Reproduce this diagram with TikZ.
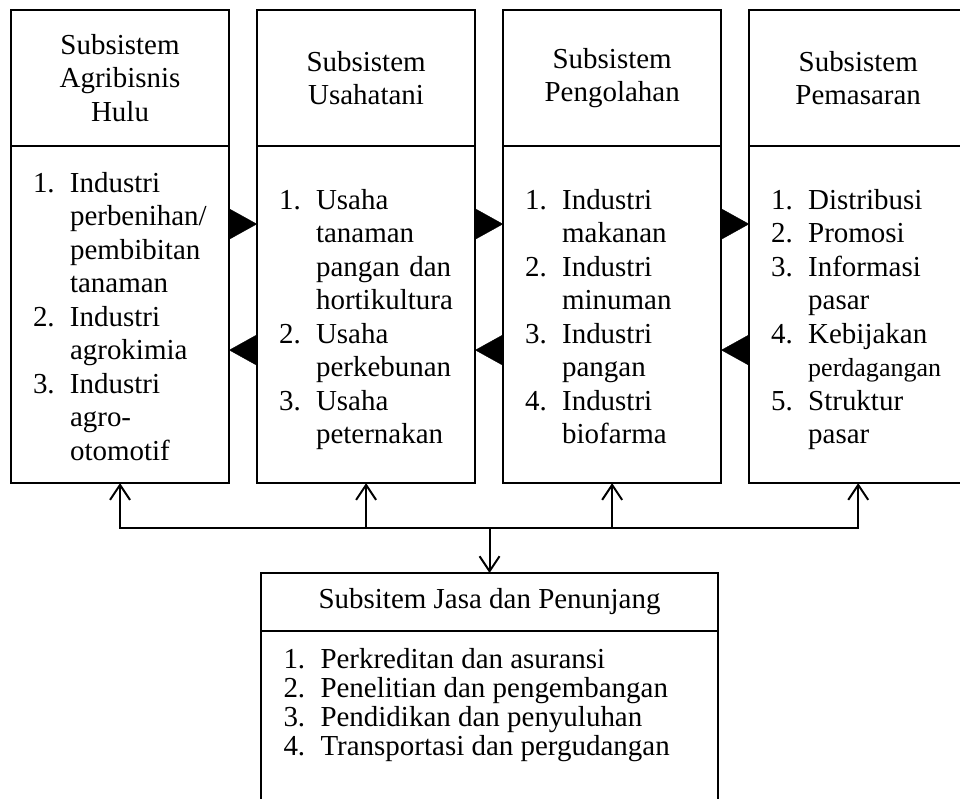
\documentclass[tikz,border=0pt]{standalone}
\usepackage{fontspec}
\setmainfont{Liberation Serif}
\usetikzlibrary{positioning,arrows.meta}

\newcommand{\lst}[1]{\noindent\begin{tabular}{@{}p{0.925cm}@{}l@{}}\rule{0pt}{0.84cm}#1\end{tabular}}

\begin{document}
\begin{tikzpicture}[x=0.025cm,y=-0.025cm,
	font=\fontsize{20.6}{23.8}\selectfont,
	hdr/.style={draw,line width=1.4pt,outer sep=0pt,inner sep=0pt,minimum width=5.45cm,minimum height=3.4cm,align=center},
	body/.style={draw,line width=1.4pt,outer sep=0pt,minimum width=5.45cm,minimum height=8.425cm,text width=4.35cm,inner xsep=0.55cm,align=left},
	tri/.style={line width=0.2pt,-{Triangle[length=0.7cm,width=0.775cm]}},
	uparr/.style={line width=1.4pt,-{Straight Barb[length=0.375cm,width=0.5cm]}}]
	\useasboundingbox (0,0) rectangle (960,799);
	\clip (0,0) rectangle (960,799);
	%
	\node[hdr,anchor=north west] (h1) at (11,10) {Subsistem\\Agribisnis\\Hulu};
	\node[hdr,right=0.7cm of h1] (h2) {Subsistem\\Usahatani};
	\node[hdr,right=0.7cm of h2] (h3) {Subsistem\\Pengolahan};
	\node[hdr,right=0.7cm of h3] (h4) {Subsistem\\Pemasaran};
	%
	\node[body,below=0pt of h1] (b1) {\lst{1. & Industri\\ & perbenihan/\\ & pembibitan\\ & tanaman\\ 2. & Industri\\ & agrokimia\\ 3. & Industri\\ & agro-\\ & otomotif}};
	\node[body,below=0pt of h2] (b2) {\lst{1. & Usaha\\ & tanaman\\ & pangan dan\\ & hortikultura\\ 2. & Usaha\\ & perkebunan\\ 3. & Usaha\\ & peternakan}};
	\node[body,below=0pt of h3] (b3) {\lst{1. & Industri\\ & makanan\\ 2. & Industri\\ & minuman\\ 3. & Industri\\ & pangan\\ 4. & Industri\\ & biofarma}};
	\node[body,below=0pt of h4] (b4) {\lst{1. & Distribusi\\ 2. & Promosi\\ 3. & Informasi\\ & pasar\\ 4. & Kebijakan\\ & {\fontsize{18.5}{20}\selectfont perdagangan}\\ 5. & Struktur\\ & pasar}};
	%
	\foreach \a/\b in {1/2,2/3,3/4}{
		\draw[tri] ([yshift=-1.95cm]b\a.north east) -- ([yshift=-1.95cm]b\b.north west);
		\draw[tri] ([yshift=-5.1cm]b\b.north west) -- ([yshift=-5.1cm]b\a.north east);
	}
	%
	\node[hdr,anchor=north west,minimum width=11.425cm,minimum height=1.45cm] (jh) at (261,573) {Subsitem Jasa dan Penunjang};
	\node[draw,line width=1.4pt,outer sep=0pt,inner xsep=0pt,inner ysep=0.425cm,minimum width=11.425cm,below=0pt of jh] (jb)
		{\parbox[t][4.3cm][t]{10.3cm}{\renewcommand\arraystretch{0.87}\noindent\begin{tabular}{@{}p{0.925cm}@{}l@{}}1. & Perkreditan dan asuransi\\ 2. & Penelitian dan pengembangan\\ 3. & Pendidikan dan penyuluhan\\ 4. & Transportasi dan pergudangan\end{tabular}}};
	%
	\coordinate (bus) at (jh.north |- 0,528);
	\draw[uparr] (bus) -| (b1.south);
	\draw[uparr] (bus) -| (b4.south);
	\draw[uparr] (b2.south |- bus) -- (b2.south);
	\draw[uparr] (b3.south |- bus) -- (b3.south);
	\draw[uparr] (bus) -- (jh.north);
\end{tikzpicture}
\end{document}
